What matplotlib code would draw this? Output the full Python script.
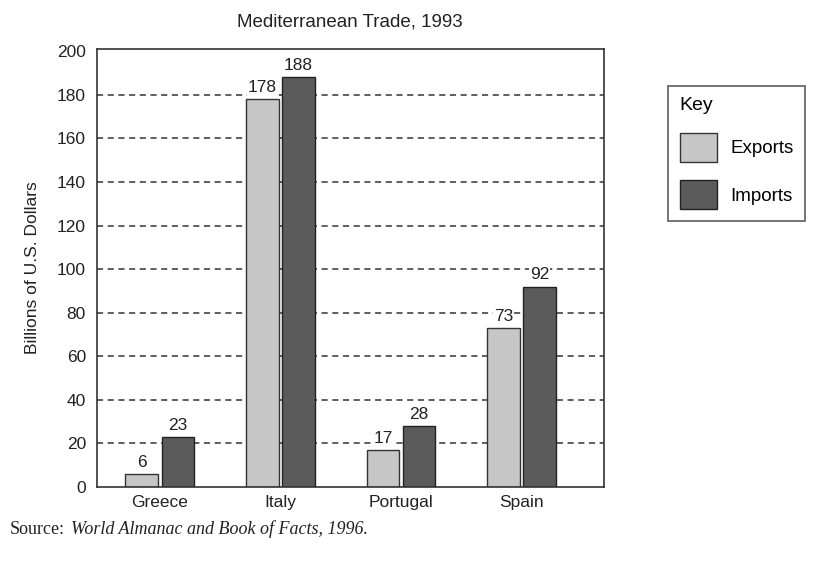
import numpy as np
import matplotlib.pyplot as plt
from matplotlib.patches import Patch

# ---------- Data ----------
countries = ["Greece", "Italy", "Portugal", "Spain"]
exports = [6, 178, 17, 73]
imports = [23, 188, 28, 92]
yticks = [0, 20, 40, 60, 80, 100, 120, 140, 160, 180, 200]

plt.rcParams["font.family"] = ["Liberation Sans", "DejaVu Sans"]

fig = plt.figure(figsize=(8.25, 5.71), dpi=100)
ax = fig.add_axes([0.1176, 0.147, 0.614, 0.767])

x = np.arange(len(countries))
w = 0.27
off = 0.15
exp_col = "#c6c6c6"
imp_col = "#5b5b5b"

# dashed gridlines behind the bars
for yv in yticks[1:-1]:
    ax.axhline(yv, color="#333333", linestyle=(0, (4, 3)), linewidth=1.1, zorder=0)

b1 = ax.bar(x - off, exports, w, color=exp_col, edgecolor="#333333", linewidth=1.0, zorder=2)
b2 = ax.bar(x + off, imports, w, color=imp_col, edgecolor="#222222", linewidth=1.0, zorder=2)

for rect, v in zip(list(b1) + list(b2), exports + imports):
    ax.text(rect.get_x() + rect.get_width() / 2, v + 2, str(v),
            ha="center", va="bottom", fontsize=12.5, color="#222222", zorder=3,
            bbox=dict(facecolor="white", edgecolor="none", pad=0.5))

ax.set_xlim(-0.52, 3.68)
ax.set_ylim(0, 201)
ax.set_yticks(yticks)
ax.set_xticks(x)
ax.set_xticklabels(countries)
ax.tick_params(axis="both", length=0, labelsize=12.5, colors="#222222", pad=8)
ax.tick_params(axis="x", pad=6)
for s in ax.spines.values():
    s.set_color("#333333")
    s.set_linewidth(1.2)

ax.set_ylabel("Billions of U.S. Dollars", fontsize=12.5, color="#222222", labelpad=12)
ax.set_title("Mediterranean Trade, 1993", fontsize=13.5, color="#222222", pad=16)

handles = [Patch(facecolor=exp_col, edgecolor="#333333", label="Exports"),
           Patch(facecolor=imp_col, edgecolor="#222222", label="Imports")]
leg = fig.legend(handles=handles, title="Key", loc="upper left",
                 bbox_to_anchor=(0.81, 0.85), fontsize=13.5, title_fontsize=14,
                 frameon=True, fancybox=False, edgecolor="#333333",
                 handlelength=2.0, handleheight=2.0, labelspacing=1.0,
                 borderpad=0.6, handletextpad=0.7, borderaxespad=0.0,
                 alignment="left")
leg.get_frame().set_linewidth(1.2)

fig.text(0.012, 0.064, "Source:", fontsize=13, family="Liberation Serif", color="#222222")
fig.text(0.086, 0.064, "World Almanac and Book of Facts, 1996.", fontsize=13,
         family="Liberation Serif", style="italic", color="#222222")

fig.savefig("out.png", dpi=100, facecolor="white")
